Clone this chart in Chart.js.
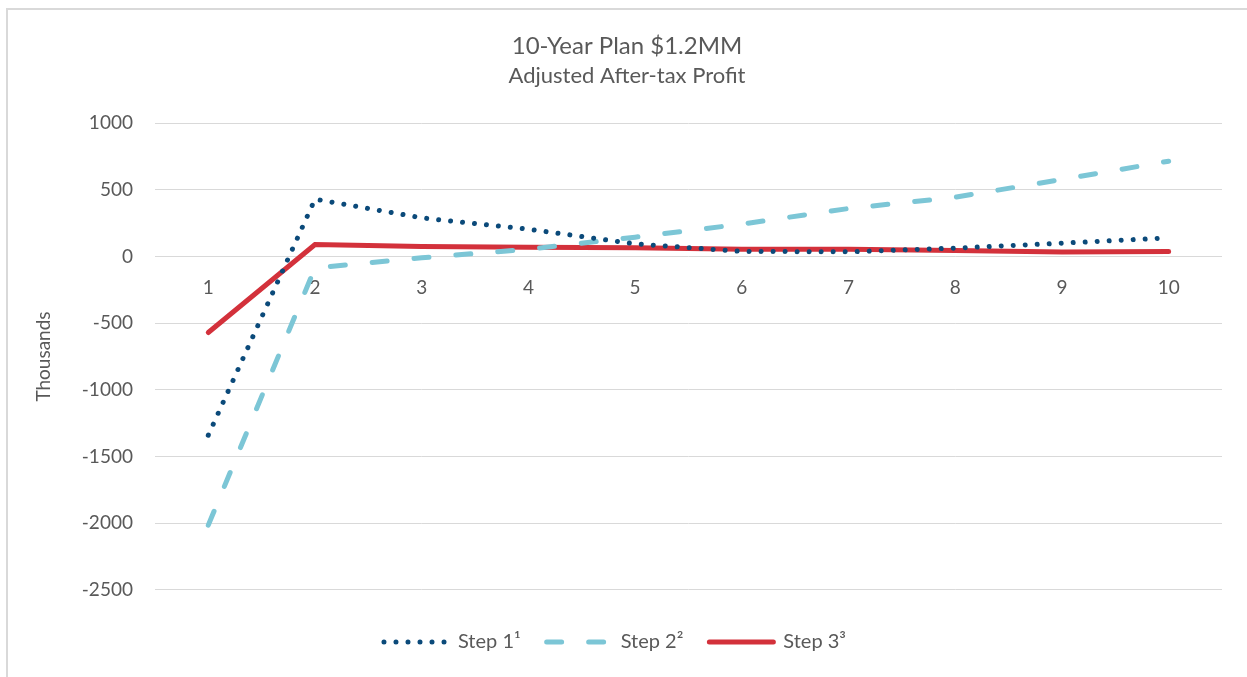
<!DOCTYPE html>
<html><head><meta charset="utf-8">
<script src="https://cdn.jsdelivr.net/npm/chart.js@4/dist/chart.umd.min.js"></script>
<style>
html,body{margin:0;padding:0;background:#fff;overflow:hidden;}
#frame{position:absolute;left:6px;top:8px;width:1300px;height:700px;border-left:2px solid #d9d9d9;border-top:2px solid #d9d9d9;}
#c{position:absolute;left:0;top:0;display:block;}
</style></head>
<body><div id="frame"></div><canvas id="c" width="1247" height="677"></canvas>
<script>
const categories = ['1','2','3','4','5','6','7','8','9','10'];
const step1 = [-1340, 430, 290, 205, 95, 38, 35, 63, 100, 140];
const step2 = [-2015, -85, -10, 55, 145, 243, 360, 445, 578, 715];
const step3 = [-570, 90, 75, 70, 65, 55, 55, 45, 33, 38];
const seriesNames = ['Step 1\u00B9', 'Step 2\u00B2', 'Step 3\u00B3'];
const yTicks = { min: -2500, max: 1000, step: 500 };
const titleText = '10-Year Plan $1.2MM';
const subtitleText = 'Adjusted After-tax Profit';
const yAxisTitle = 'Thousands';

const FONT = 'Lato, "Open Sans", sans-serif';
const TXT = '#595959';

const legendShift = {
  id: 'legendShift',
  afterLayout(chart) {
    const lg = chart.legend;
    if (lg) { lg.left -= 12; lg.right -= 12; }
  }
};

new Chart(document.getElementById('c'), {
  type: 'line',
  data: {
    labels: categories,
    datasets: [
      { label: seriesNames[0], data: step1, borderColor: '#0B4A7A', backgroundColor: '#0B4A7A',
        borderWidth: 5, borderDash: [0.01, 12], borderCapStyle: 'round', pointRadius: 0, tension: 0 },
      { label: seriesNames[1], data: step2, borderColor: '#7CC6D6', backgroundColor: '#7CC6D6',
        borderWidth: 5, borderDash: [15, 27], borderCapStyle: 'round', pointRadius: 0, tension: 0 },
      { label: seriesNames[2], data: step3, borderColor: '#D3313B', backgroundColor: '#D3313B',
        borderWidth: 5, borderCapStyle: 'round', pointRadius: 0, tension: 0 }
    ]
  },
  plugins: [legendShift],
  options: {
    responsive: false,
    animation: false,
    layout: { padding: { left: 32, right: 25, top: 20, bottom: 15 } },
    plugins: {
      title: { display: true, text: titleText, color: TXT, font: { family: FONT, size: 24, weight: 'normal' }, padding: { top: 12, bottom: 2 } },
      subtitle: { display: true, text: subtitleText, color: TXT, font: { family: FONT, size: 22, weight: 'normal' }, padding: { bottom: 34 } },
      legend: {
        position: 'bottom',
        title: { display: true, text: '', font: { size: 1 }, padding: { top: 0, bottom: 15 } },
        labels: {
          usePointStyle: true, pointStyle: 'line', pointStyleWidth: 64, boxHeight: 10,
          color: TXT, font: { family: FONT, size: 20 }, padding: 26,
          generateLabels(chart) {
            const items = Chart.defaults.plugins.legend.labels.generateLabels(chart);
            items.forEach(it => {
              const ds = chart.data.datasets[it.datasetIndex];
              it.lineDash = ds.borderDash || [];
              it.lineCap = ds.borderCapStyle || 'butt';
              it.lineWidth = ds.borderWidth;
              it.strokeStyle = ds.borderColor;
              it.pointStyle = 'line';
            });
            return items;
          }
        }
      },
      tooltip: { enabled: false }
    },
    scales: {
      x: {
        position: { y: 0 },
        offset: true,
        grid: { display: false, drawTicks: false },
        border: { display: false },
        ticks: { color: TXT, font: { family: FONT, size: 19 }, padding: 20, maxRotation: 0 }
      },
      y: {
        min: yTicks.min, max: yTicks.max,
        grid: { color: '#d9d9d9', lineWidth: 1, drawTicks: false },
        border: { display: false },
        ticks: { stepSize: yTicks.step, color: TXT, font: { family: FONT, size: 19 }, padding: 22,
          callback: v => String(v) },
        title: { display: true, text: yAxisTitle, color: TXT, font: { family: FONT, size: 19 }, padding: { top: 0, bottom: 5 } }
      }
    }
  }
});
</script></body></html>
